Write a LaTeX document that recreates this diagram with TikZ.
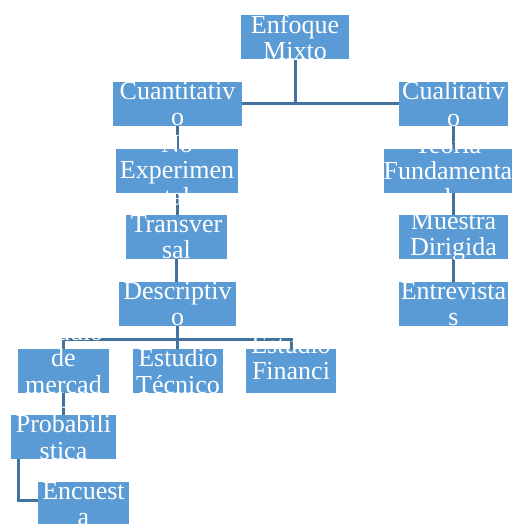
\documentclass[tikz,border=0pt]{standalone}
\usepackage{fontspec}
\setmainfont{Liberation Serif}
\usepackage{tikz}
\usetikzlibrary{backgrounds}

\definecolor{cajaazul}{RGB}{91,155,213}
\definecolor{lineaazul}{RGB}{65,113,156}

\begin{document}
\begin{tikzpicture}[x=1pt, y=-1pt,
    caja/.style={rectangle, fill=cajaazul, text=white, align=center,
        inner sep=-60pt, minimum width=#1, minimum height=44pt,
        font=\fontsize{26}{26.5}\selectfont},
    linea/.style={draw=lineaazul, line width=3pt}]
        \useasboundingbox (0,0) rectangle (512,524);

        % Raiz
        \node[caja=108pt] (mixto) at (295,37.5) {Enfoque\\Mixto};

        % Rama cuantitativa
        \node[caja=129pt] (cuanti) at (177.5,104) {Cuantitativ\\o};
        \node[caja=122pt] (noexp) at (177,170.5) {No\\Experimen\\tal};
        \node[caja=101pt] (transv) at (176.5,237) {Transver\\sal};
        \node[caja=117pt] (descr) at (177.5,304) {Descriptiv\\o};
        \node[caja=91pt] (mercado) at (63.5,371) {Estudio\\de\\mercad\\o};
        \node[caja=90pt] (tecnico) at (178,371) {Estudio\\Técnico};
        \node[caja=90pt] (financ) at (291,371) {Estudio\\Financi\\ero};
        \node[caja=105pt] (probab) at (63.5,437) {Probabili\\stica};
        \node[caja=91pt] (encuesta) at (83.5,504) {Encuest\\a};

        % Rama cualitativa
        \node[caja=109pt] (cuali) at (453.5,104) {Cualitativ\\o};
        \node[caja=128pt] (teoria) at (448,170.5) {Teoría\\Fundamenta\\l};
        \node[caja=109pt] (muestra) at (453.5,237) {Muestra\\Dirigida};
        \node[caja=109pt] (entrev) at (453.5,304) {Entrevista\\s};

        \coordinate (barra) at (177,339);

        % Conectores
        \begin{scope}[on background layer]
            \draw[linea] (mixto) -- (mixto |- cuanti);
            \draw[linea] (cuanti) -- (cuali);
            \draw[linea] (cuanti) -- (cuanti |- noexp);
            \draw[linea] (noexp) -- (noexp |- transv);
            \draw[linea] (transv) -- (transv |- descr);
            \draw[linea] (descr) -- (descr |- tecnico);
            \draw[linea] (mercado) |- (barra) -| (financ);
            \draw[linea] (mercado) -- (probab);
            \draw[linea] ([xshift=8pt]probab.south west) |- ([yshift=4pt]encuesta.west);
            \draw[linea] (cuali) -- (cuali |- teoria);
            \draw[linea] (cuali |- teoria) -- (muestra);
            \draw[linea] (muestra) -- (entrev);
        \end{scope}
    \end{tikzpicture}
\end{document}
